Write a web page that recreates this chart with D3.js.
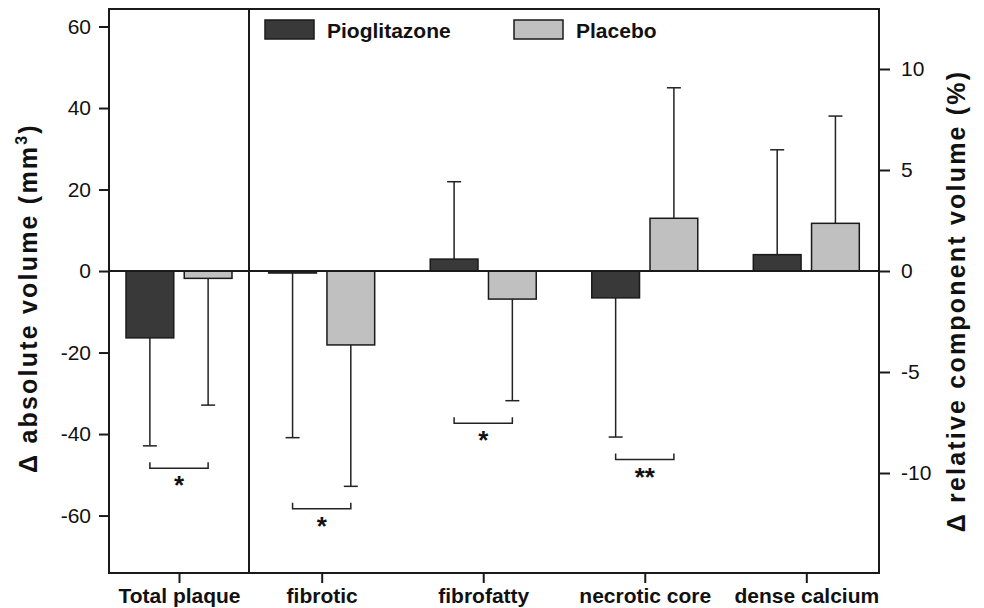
<!DOCTYPE html>
<html>
<head>
<meta charset="utf-8">
<script src="https://cdn.jsdelivr.net/npm/d3@7"></script>
<style>
  body { margin: 0; background: #fff; }
  text { font-family: "Liberation Sans", Arial, Helvetica, sans-serif; fill: #111; }
</style>
</head>
<body>
<div id="chart"></div>
<script>
// data (first category is on the left axis, mm3; the rest on the right axis, %)
var categories = ["Total plaque", "fibrotic", "fibrofatty", "necrotic core", "dense calcium"];
var groups = ["Pioglitazone", "Placebo"];
var pioMean = [-16.4, -0.1, 0.59, -1.33, 0.81];
var pioSd = [26.5, 8.15, 3.83, 6.89, 5.19];
var placeboMean = [-1.8, -3.66, -1.39, 2.61, 2.36];
var placeboSd = [31.1, 7.0, 5.03, 6.46, 5.31];
var signif = ["*", "*", "*", "**", ""];
var leftTicks = [-60, -40, -20, 0, 20, 40, 60];
var rightTicks = [-10, -5, 0, 5, 10];

var colors = {"Pioglitazone": "#393939", "Placebo": "#c0c0c0"};

var W = 984, H = 608;
var margin = {top: 9, right: 105, bottom: 35, left: 109};
var x0 = margin.left, x1 = W - margin.right, divider = 249;
var yTop = margin.top, yBot = H - margin.bottom;

var svg = d3.select("#chart")
  .append("svg")
    .attr("width", W)
    .attr("height", H);

var yLeft = d3.scaleLinear().domain([-74.1, 64.3]).range([yBot, yTop]);
var yRight = d3.scaleLinear().domain([-14.95, 12.97]).range([yBot, yTop]);

var xTotal = d3.scalePoint().domain(categories.slice(0, 1)).range([x0, divider]).padding(0.5);
var xComp = d3.scalePoint().domain(categories.slice(1)).range([divider, x1]).padding(0.45);
function xCat(c) { return c === categories[0] ? xTotal(c) : xComp(c); }

var xInner = d3.scaleBand().domain(groups).range([-53, 53]).paddingInner(0.18);

var rows = categories.map(function(c, i) {
  var y = i === 0 ? yLeft : yRight;
  return {
    cat: c, y: y, sig: signif[i],
    values: [
      {group: groups[0], mean: pioMean[i], sd: pioSd[i]},
      {group: groups[1], mean: placeboMean[i], sd: placeboSd[i]}
    ]
  };
});

// bars
var g = svg.append("g");
rows.forEach(function(r) {
  var cx = xCat(r.cat);
  r.values.forEach(function(v) {
    var bx = cx + xInner(v.group);
    var mid = bx + xInner.bandwidth() / 2;
    var end = v.mean + (v.mean < 0 ? -v.sd : v.sd);
    // error bar (one sided)
    g.append("line")
      .attr("x1", mid).attr("x2", mid)
      .attr("y1", r.y(v.mean)).attr("y2", r.y(end))
      .attr("stroke", "#222").attr("stroke-width", 1.5);
    g.append("line")
      .attr("x1", mid - 7).attr("x2", mid + 7)
      .attr("y1", r.y(end)).attr("y2", r.y(end))
      .attr("stroke", "#222").attr("stroke-width", 1.5);
    g.append("rect")
      .attr("x", bx)
      .attr("y", Math.min(r.y(v.mean), r.y(0)))
      .attr("width", xInner.bandwidth())
      .attr("height", Math.abs(r.y(v.mean) - r.y(0)))
      .attr("fill", colors[v.group])
      .attr("stroke", "#1a1a1a")
      .attr("stroke-width", 1.5);
  });

  // significance bracket
  if (r.sig) {
    var lowest = d3.max(r.values, function(v) {
      return r.y(v.mean + (v.mean < 0 ? -v.sd : v.sd));
    });
    var by = lowest + 22.5;
    var bx1 = cx + xInner(groups[0]) + xInner.bandwidth() / 2;
    var bx2 = cx + xInner(groups[1]) + xInner.bandwidth() / 2;
    g.append("path")
      .attr("d", "M" + bx1 + "," + (by - 6) + "V" + by + "H" + bx2 + "V" + (by - 6))
      .attr("fill", "none")
      .attr("stroke", "#222")
      .attr("stroke-width", 1.5);
    g.append("text")
      .attr("x", (bx1 + bx2) / 2)
      .attr("y", by + 26)
      .attr("text-anchor", "middle")
      .style("font-size", "26px")
      .style("font-weight", "bold")
      .text(r.sig);
  }
});

// frame, divider, zero line
var axisCol = "#1a1a1a";
svg.append("rect")
  .attr("x", x0).attr("y", yTop)
  .attr("width", x1 - x0).attr("height", yBot - yTop)
  .attr("fill", "none").attr("stroke", axisCol).attr("stroke-width", 2);
svg.append("line")
  .attr("x1", divider).attr("x2", divider)
  .attr("y1", yTop).attr("y2", yBot)
  .attr("stroke", axisCol).attr("stroke-width", 2);
svg.append("line")
  .attr("x1", x0).attr("x2", x1)
  .attr("y1", yLeft(0)).attr("y2", yLeft(0))
  .attr("stroke", axisCol).attr("stroke-width", 2);

// axes (plain hyphen for negatives, as in the figure)
var fmt = function(d) { return String(d); };
var leftAxis = svg.append("g")
  .attr("transform", "translate(" + x0 + ",0)")
  .call(d3.axisLeft(yLeft).tickValues(leftTicks).tickFormat(fmt).tickSize(10).tickPadding(8));
var rightAxis = svg.append("g")
  .attr("transform", "translate(" + x1 + ",0)")
  .call(d3.axisRight(yRight).tickValues(rightTicks).tickFormat(fmt).tickSize(11).tickPadding(11));
var bottomAxis = svg.append("g")
  .attr("transform", "translate(0," + yBot + ")");
bottomAxis.append("g").call(d3.axisBottom(xTotal).tickSize(10).tickPadding(5));
bottomAxis.append("g").call(d3.axisBottom(xComp).tickSize(10).tickPadding(5));

[leftAxis, rightAxis].forEach(function(a) {
  a.selectAll(".domain").remove();
  a.selectAll(".tick line").attr("stroke", axisCol).attr("stroke-width", 2);
  a.selectAll(".tick text")
    .style("font-size", "21px")
    .attr("fill", "#111");
});
bottomAxis.selectAll(".domain").remove();
bottomAxis.selectAll(".tick line").attr("stroke", axisCol).attr("stroke-width", 2);
bottomAxis.selectAll(".tick text")
  .style("font-size", "21px")
  .style("font-weight", "bold")
  .attr("fill", "#111");

// axis titles
var lt = svg.append("text")
  .attr("transform", "translate(37," + 298 + ") rotate(-90)")
  .attr("text-anchor", "middle")
  .style("font-size", "25px")
  .style("font-weight", "bold")
  .style("letter-spacing", "2.2px");
lt.append("tspan").text("\u0394 absolute volume (mm");
lt.append("tspan").attr("dy", -10).style("font-size", "16px").text("3");
lt.append("tspan").attr("dy", 10).text(")");

svg.append("text")
  .attr("transform", "translate(965," + 301 + ") rotate(-90)")
  .attr("text-anchor", "middle")
  .style("font-size", "25px")
  .style("font-weight", "bold")
  .style("letter-spacing", "2.2px")
  .text("\u0394 relative component volume (%)");

// legend
var legend = svg.append("g").attr("transform", "translate(265,20)");
groups.forEach(function(gr, i) {
  var lg = legend.append("g").attr("transform", "translate(" + (i * 249) + ",0)");
  lg.append("rect")
    .attr("width", 49).attr("height", 19)
    .attr("fill", colors[gr]).attr("stroke", "#1a1a1a").attr("stroke-width", 1.5);
  lg.append("text")
    .attr("x", 62).attr("y", 17.5)
    .style("font-size", "21px")
    .style("font-weight", "bold")
    .text(gr);
});
</script>
</body>
</html>
